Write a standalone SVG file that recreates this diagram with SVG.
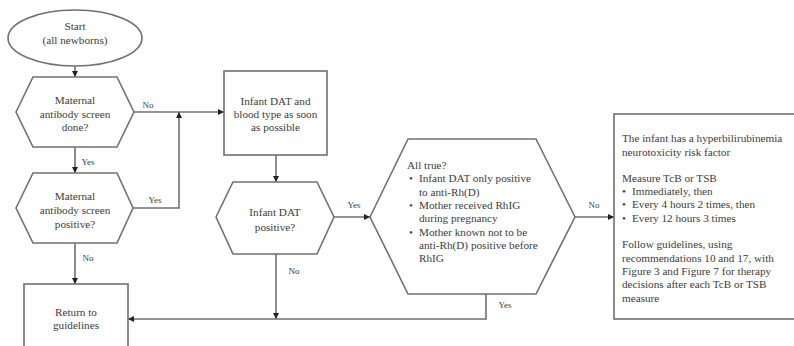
<svg xmlns="http://www.w3.org/2000/svg" width="794" height="346" viewBox="0 0 794 346">
<defs>
<marker id="ah" viewBox="0 0 8 8" refX="8" refY="4" markerWidth="6" markerHeight="6" markerUnits="userSpaceOnUse" orient="auto">
<path d="M0,0 L8,4 L0,8 z" fill="#222"/>
</marker>
<style>
.s{fill:#fff;stroke:#707070;stroke-width:1.6}
.c{fill:none;stroke:#707070;stroke-width:1.6}
.a{marker-end:url(#ah)}
text{font-family:"Liberation Serif","Times New Roman",serif;font-size:11.2px;fill:#3c3c3c}
.m{text-anchor:middle}
.l{font-size:9px}
</style>
</defs>
<rect width="794" height="346" fill="#fff"/>
<g id="connectors">
<line class="c a" x1="75" y1="66" x2="75" y2="77"/>
<line class="c a" x1="75" y1="147" x2="75" y2="173"/>
<line class="c a" x1="75" y1="243" x2="75" y2="284"/>
<line class="c a" x1="134" y1="112" x2="224" y2="112"/>
<polyline class="c a" points="133,208 179,208 179,112"/>
<line class="c a" x1="276" y1="155" x2="276" y2="182"/>
<line class="c a" x1="334" y1="217" x2="370" y2="217"/>
<line class="c a" x1="276" y1="254" x2="276" y2="319"/>
<line class="c a" x1="575" y1="217" x2="614" y2="217"/>
<polyline class="c a" points="486,293 486,319 128,319"/>
<text class="l m" x="148" y="108">No</text>
<text class="l m" x="88" y="165">Yes</text>
<text class="l m" x="155" y="203">Yes</text>
<text class="l m" x="88" y="261">No</text>
<text class="l m" x="354" y="208">Yes</text>
<text class="l m" x="294" y="274">No</text>
<text class="l m" x="594" y="208">No</text>
<text class="l m" x="505" y="308">Yes</text>
</g>
<g id="start">
<ellipse class="s" cx="75" cy="38" rx="67" ry="28"/>
<text class="m" x="75" y="30">Start</text>
<text class="m" x="75" y="44">(all newborns)</text>
</g>
<g id="screen-done">
<polygon class="s" points="16,112 33,77 117,77 134,112 117,147 33,147"/>
<text class="m" x="75" y="104">Maternal</text>
<text class="m" x="75" y="117.5">antibody screen</text>
<text class="m" x="75" y="131">done?</text>
</g>
<g id="screen-positive">
<polygon class="s" points="16,208 33,173 117,173 133,208 117,243 33,243"/>
<text class="m" x="75" y="200">Maternal</text>
<text class="m" x="75" y="214">antibody screen</text>
<text class="m" x="75" y="227.5">positive?</text>
</g>
<g id="return">
<rect class="s" x="24" y="284" width="104" height="70"/>
<text class="m" x="76" y="316">Return to</text>
<text class="m" x="76" y="329">guidelines</text>
</g>
<g id="dat-box">
<rect class="s" x="224" y="71" width="103" height="84"/>
<text class="m" x="275.5" y="105">Infant DAT and</text>
<text class="m" x="275.5" y="118">blood type as soon</text>
<text class="m" x="275.5" y="131">as possible</text>
</g>
<g id="dat-positive">
<polygon class="s" points="216,217 233,182 317,182 334,217 317,254 233,254"/>
<text class="m" x="275" y="216">Infant DAT</text>
<text class="m" x="275" y="231">positive?</text>
</g>
<g id="all-true">
<polygon class="s" points="370,217 408,139 536,139 575,217 536,294 408,294"/>
<text x="407" y="169">All true?</text>
<text x="409" y="182">•</text><text x="419" y="182">Infant DAT only positive</text>
<text x="419" y="195.5">to anti-Rh(D)</text>
<text x="409" y="209">•</text><text x="419" y="209">Mother received RhIG</text>
<text x="419" y="222">during pregnancy</text>
<text x="409" y="236">•</text><text x="419" y="236">Mother known not to be</text>
<text x="419" y="249">anti-Rh(D) positive before</text>
<text x="419" y="262">RhIG</text>
</g>
<g id="risk-box">
<rect class="s" x="614" y="114" width="190" height="205"/>
<text x="622" y="142">The infant has a hyperbilirubinemia</text>
<text x="622" y="156">neurotoxicity risk factor</text>
<text x="622" y="182">Measure TcB or TSB</text>
<text x="622" y="195">•</text><text x="632" y="195">Immediately, then</text>
<text x="622" y="208">•</text><text x="632" y="208">Every 4 hours 2 times, then</text>
<text x="622" y="222">•</text><text x="632" y="222">Every 12 hours 3 times</text>
<text x="622" y="248">Follow guidelines, using</text>
<text x="622" y="262">recommendations 10 and 17, with</text>
<text x="622" y="275">Figure 3 and Figure 7 for therapy</text>
<text x="622" y="288">decisions after each TcB or TSB</text>
<text x="622" y="302">measure</text>
</g>
</svg>
